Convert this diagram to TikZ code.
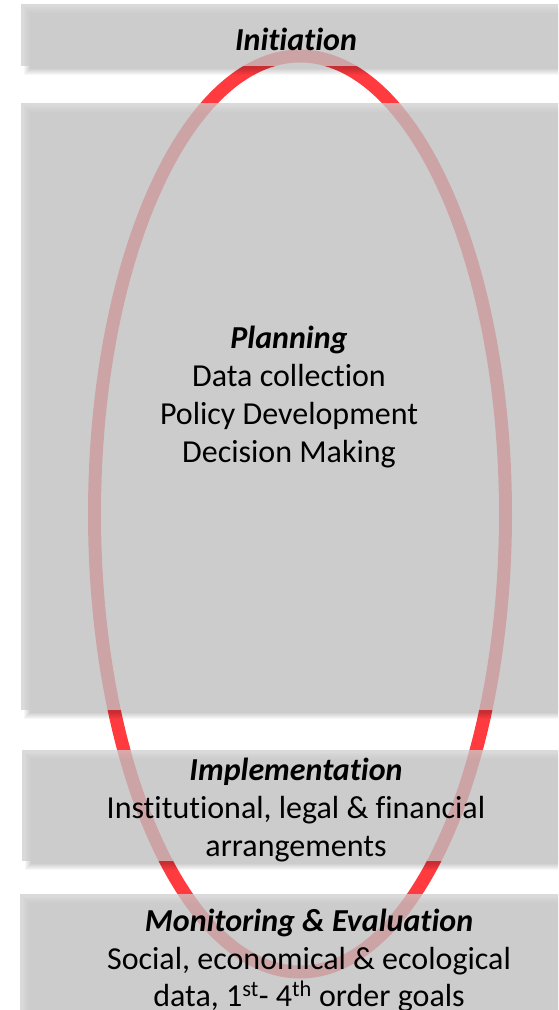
\documentclass[tikz,border=0pt]{standalone}
\usepackage{fontspec}
\setmainfont{Carlito}[Ligatures=NoCommon]
\usetikzlibrary{shapes.geometric}
\definecolor{ringred}{RGB}{255,59,63}
\definecolor{boxgray}{RGB}{205,205,205}
\newcommand\shadedpanel[5]{%
  \foreach \i in {-3,...,3}{%
    \path[fill=black,fill opacity=0.03] (#1+6+\i,#2+6+\i) rectangle (#3+6-\i,#4+6-\i);
  }%
  \path[panel] (#1,#2) rectangle (#3,#4) node[coordinate] (#5) {};
}
\begin{document}
\begin{tikzpicture}[x=1pt,y=-1pt,
  panel/.style={fill=boxgray,fill opacity=0.75},
  ring/.style={draw=ringred,line width=13pt,ellipse,inner sep=0pt,outer sep=0pt,minimum width=411pt,minimum height=916pt},
  ttl/.style={font=\fontsize{32}{38}\selectfont\bfseries\itshape,anchor=base,inner sep=0pt},
  txt/.style={font=\fontsize{32}{38}\selectfont,anchor=base,inner sep=0pt}]
\useasboundingbox (0,0) rectangle (558,1010);
\clip (0,0) rectangle (558,1010);
% ellipse behind the panels
\node[ring] (cycle) at (300,514) {};
% panels
\shadedpanel{21}{4}{600}{66}{pinit}
\shadedpanel{21}{103}{600}{710}{pplan}
\shadedpanel{22}{750}{600}{861}{pimpl}
\shadedpanel{20}{894}{620}{1040}{pmon}
% texts
\node[ttl] (t1) at (296,50) {Initiation};
\node[ttl] (t2) at (289,348) {Planning};
\node[txt] (t3) at (289,386) {Data collection};
\node[txt] (t4) at (289,424) {Policy Development};
\node[txt] (t5) at (289,462) {Decision Making};
\node[ttl] (t6) at (296,780) {Implementation};
\node[txt] (t7) at (296,818) {Institutional, legal \& financial};
\node[txt] (t8) at (296,856) {arrangements};
\node[ttl] (t9) at (309,931) {Monitoring \& Evaluation};
\node[txt] (t10) at (309,969) {Social, economical \& ecological};
\node[txt] (t11) at (309,1006) {data, 1\textsuperscript{st}- 4\textsuperscript{th} order goals};
\end{tikzpicture}
\end{document}
